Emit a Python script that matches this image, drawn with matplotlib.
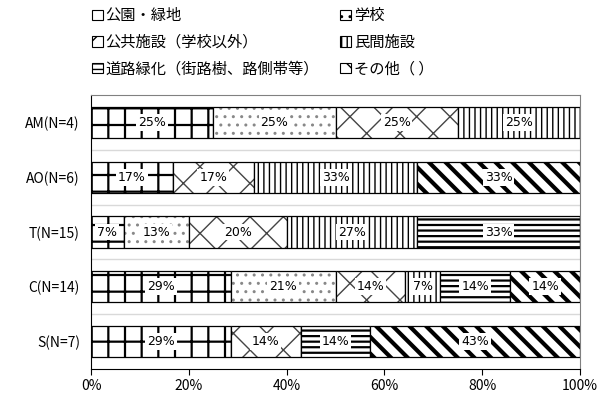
import matplotlib
matplotlib.use("Agg")
import matplotlib.pyplot as plt
import numpy as np
from matplotlib.patches import Patch

plt.rcParams['font.family'] = ['Noto Sans CJK JP', 'DejaVu Sans']

groups = ['AM(N=4)', 'AO(N=6)', 'T(N=15)', 'C(N=14)', 'S(N=7)']
totals = [4, 6, 15, 14, 7]
cats = ['公園・緑地', '学校', '公共施設（学校以外）', '民間施設', '道路緑化（街路樹、路側帯等）', 'その他（ ）']
# counts per category, one list per group
counts = {
    '公園・緑地': [1, 1, 1, 4, 2],
    '学校': [1, 0, 2, 3, 0],
    '公共施設（学校以外）': [1, 1, 3, 2, 1],
    '民間施設': [1, 2, 4, 1, 0],
    '道路緑化（街路樹、路側帯等）': [0, 0, 5, 2, 1],
    'その他（ ）': [0, 2, 0, 2, 3],
}
hatches = ['+', '..', 'x', '|||', '---', '\\\\']
hatch_colors = ['black', '#888888', '#444444', 'black', 'black', 'black']
hatch_lws = [1.6, 1.0, 1.0, 1.0, 1.6, 3.0]

fig = plt.figure(figsize=(6, 3.96), dpi=100)
ax = fig.add_axes([0.1517, 0.068, 0.815, 0.692])

y = np.arange(len(groups))
left = np.zeros(len(groups))
tot = np.array(totals, dtype=float)
handles = []
for i, c in enumerate(cats):
    frac = np.array(counts[c]) / tot
    plt.rcParams['hatch.linewidth'] = hatch_lws[i]
    bars = ax.barh(y, frac, left=left, height=0.57, color='white',
                   edgecolor=hatch_colors[i], hatch=hatches[i], linewidth=0)
    for b in bars:
        try:
            b.set_hatch_linewidth(hatch_lws[i])
        except AttributeError:
            pass
    ax.barh(y, frac, left=left, height=0.57, color='none',
            edgecolor='black', linewidth=0.9)
    for j in range(len(groups)):
        if frac[j] > 0:
            ax.text(left[j] + frac[j] / 2, y[j], f'{frac[j] * 100:.0f}%',
                    ha='center', va='center', fontsize=9, family='DejaVu Sans',
                    bbox=dict(boxstyle='square,pad=0.15', fc='white', ec='none'))
    h = Patch(facecolor='white', edgecolor='black', hatch=hatches[i], linewidth=0.8)
    handles.append(h)
    left += frac

plt.rcParams['hatch.linewidth'] = 1.0

ax.set_ylim(len(groups) - 0.5, -0.5)
ax.set_xlim(0, 1)
ax.set_yticks(y)
ax.set_yticklabels(groups, fontsize=10)
ax.tick_params(axis='y', length=0, pad=8)
ax.set_yticks(np.arange(len(groups) - 1) + 0.5, minor=True)
ax.tick_params(axis='y', which='minor', length=0)
ax.grid(axis='y', which='minor', color='#d9d9d9', linewidth=1)
ax.set_axisbelow(True)

ax.set_xticks(np.linspace(0, 1, 6))
ax.set_xticklabels([f'{v}%' for v in range(0, 101, 20)], fontsize=10)
ax.tick_params(axis='x', length=4, direction='out', pad=3)
for s in ['top', 'right']:
    ax.spines[s].set_color('#808080')
for s in ['left', 'bottom']:
    ax.spines[s].set_color('black')

col1 = [0, 2, 4]
col2 = [1, 3, 5]
for col, xpos in [(col1, 0.143), (col2, 0.557)]:
    fig.legend([handles[k] for k in col], [cats[k] for k in col],
               loc='upper left', bbox_to_anchor=(xpos, 0.997), frameon=False,
               fontsize=11, handlelength=0.7, handleheight=0.7,
               handletextpad=0.2, labelspacing=0.62, borderaxespad=0)

fig.savefig('out.png', dpi=100)
